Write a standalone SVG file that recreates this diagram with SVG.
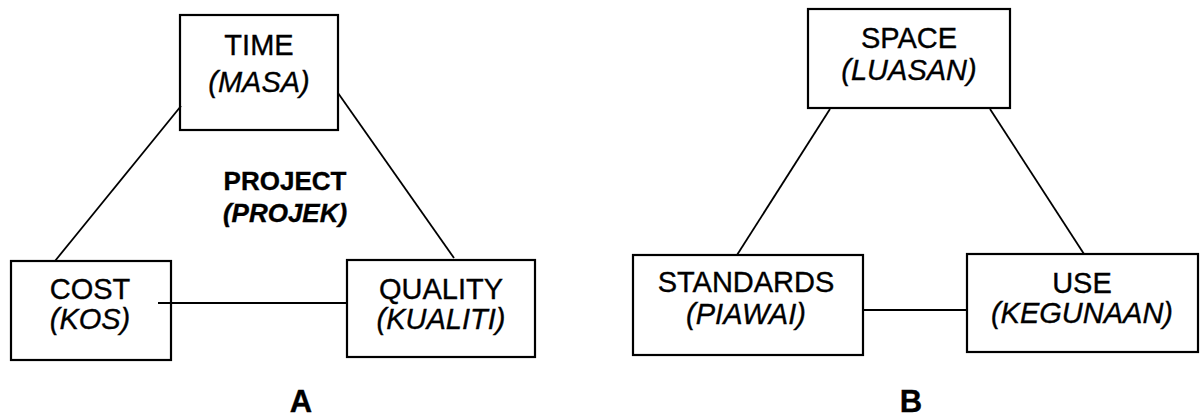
<svg xmlns="http://www.w3.org/2000/svg" width="1204" height="418" viewBox="0 0 1204 418">
<style>
.box{fill:#fff;stroke:#000;stroke-width:2.2}
.ln{stroke:#000;stroke-width:1.8;fill:none}
text{font-family:"Liberation Sans",Arial,sans-serif;font-size:29px;fill:#000;stroke:#000;stroke-width:0.35;text-anchor:middle}
.it{font-style:italic}
.b{font-weight:bold;font-size:26px}
.lab{font-weight:bold;font-size:31px}
</style>
<rect width="1204" height="418" fill="#fff"/>
<g id="time"><rect class="box" x="180" y="15" width="158" height="115"/><text x="259" y="55">TIME</text><text class="it" x="259" y="92">(MASA)</text></g>
<g id="cost"><rect class="box" x="11" y="261" width="160" height="99"/><text x="90" y="299">COST</text><text class="it" x="90" y="329">(KOS)</text></g>
<g id="quality"><rect class="box" x="347" y="260" width="188" height="97"/><text x="441" y="299">QUALITY</text><text class="it" x="441" y="329">(KUALITI)</text></g>
<g id="project"><text class="b" x="285" y="190">PROJECT</text><text class="b it" x="285" y="222">(PROJEK)</text></g>
<g id="labelA"><text class="lab" x="301" y="412">A</text></g>
<g id="space"><rect class="box" x="808" y="9" width="202" height="99"/><text x="909" y="48">SPACE</text><text class="it" x="909" y="80">(LUASAN)</text></g>
<g id="standards"><rect class="box" x="633" y="255" width="230" height="100"/><text x="746" y="292">STANDARDS</text><text class="it" x="746" y="324">(PIAWAI)</text></g>
<g id="use"><rect class="box" x="967" y="254" width="231" height="98"/><text x="1082" y="293">USE</text><text class="it" x="1082" y="323">(KEGUNAAN)</text></g>
<g id="labelB"><text class="lab" x="911" y="412">B</text></g>
<g id="connectors">
<line class="ln" x1="181" y1="106" x2="55" y2="261"/>
<line class="ln" x1="338" y1="93" x2="454" y2="258"/>
<line class="ln" x1="158" y1="303" x2="347" y2="303"/>
<line class="ln" x1="830" y1="109" x2="737" y2="255"/>
<line class="ln" x1="990" y1="109" x2="1084" y2="254"/>
<line class="ln" x1="864" y1="310" x2="967" y2="310"/>
</g>
</svg>
